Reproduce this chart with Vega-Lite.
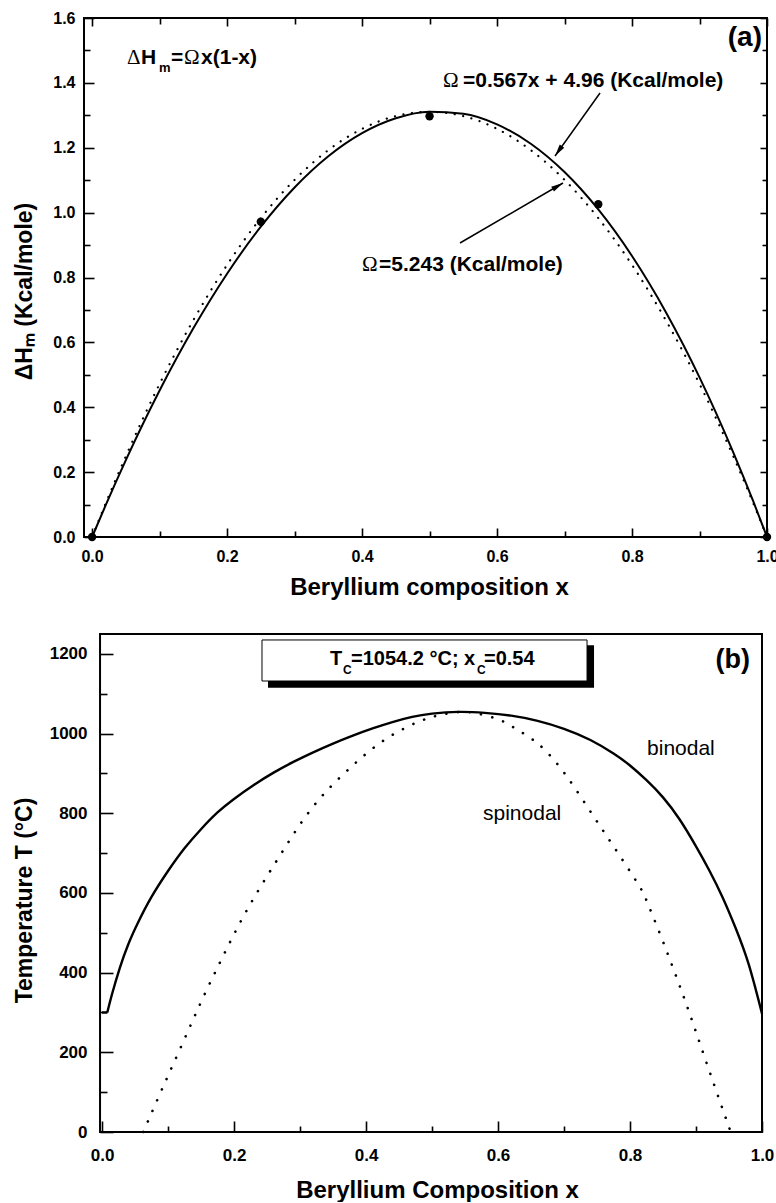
{
  "$schema": "https://vega.github.io/schema/vega-lite/v6.json",
  "background": "white",
  "padding": {"left": 12, "top": 9, "right": 0, "bottom": 0},
  "spacing": 33,
  "datasets": {
    "dh_fit": [
      {"x": 0, "y": 0}, {"x": 0.02, "y": 0.0974}, {"x": 0.05, "y": 0.2370}, {"x": 0.1, "y": 0.4515},
      {"x": 0.15, "y": 0.6432}, {"x": 0.2, "y": 0.8117}, {"x": 0.25, "y": 0.9566}, {"x": 0.3, "y": 1.0773},
      {"x": 0.35, "y": 1.1736}, {"x": 0.4, "y": 1.2448}, {"x": 0.45, "y": 1.2908}, {"x": 0.5, "y": 1.3109},
      {"x": 0.55, "y": 1.3048}, {"x": 0.6, "y": 1.2721}, {"x": 0.65, "y": 1.2123}, {"x": 0.7, "y": 1.1250},
      {"x": 0.75, "y": 1.0097}, {"x": 0.8, "y": 0.8662}, {"x": 0.85, "y": 0.6939}, {"x": 0.9, "y": 0.4923},
      {"x": 0.95, "y": 0.2612}, {"x": 0.98, "y": 0.1081}, {"x": 1.0, "y": 0}
    ],
    "dh_reg": [
      {"x": 0, "y": 0}, {"x": 0.02, "y": 0.1028}, {"x": 0.05, "y": 0.2490}, {"x": 0.1, "y": 0.4719},
      {"x": 0.15, "y": 0.6685}, {"x": 0.2, "y": 0.8389}, {"x": 0.25, "y": 0.9831}, {"x": 0.3, "y": 1.1010},
      {"x": 0.35, "y": 1.1928}, {"x": 0.4, "y": 1.2583}, {"x": 0.45, "y": 1.2976}, {"x": 0.5, "y": 1.3108},
      {"x": 0.55, "y": 1.2976}, {"x": 0.6, "y": 1.2583}, {"x": 0.65, "y": 1.1928}, {"x": 0.7, "y": 1.1010},
      {"x": 0.75, "y": 0.9831}, {"x": 0.8, "y": 0.8389}, {"x": 0.85, "y": 0.6685}, {"x": 0.9, "y": 0.4719},
      {"x": 0.95, "y": 0.2490}, {"x": 0.98, "y": 0.1028}, {"x": 1.0, "y": 0}
    ],
    "dh_pts": [
      {"x": 0, "y": 0}, {"x": 0.25, "y": 0.972}, {"x": 0.5, "y": 1.297}, {"x": 0.75, "y": 1.026}, {"x": 1.0, "y": 0}
    ],
    "binodal_stub": [
      {"x": 0, "T": 300}, {"x": 0.008, "T": 300}
    ],
    "binodal": [
      {"x": 0.008, "T": 300}, {"x": 0.015, "T": 345}, {"x": 0.027, "T": 412},
      {"x": 0.04, "T": 472}, {"x": 0.055, "T": 527}, {"x": 0.075, "T": 590}, {"x": 0.1, "T": 655},
      {"x": 0.125, "T": 712}, {"x": 0.15, "T": 760}, {"x": 0.175, "T": 802}, {"x": 0.2, "T": 836},
      {"x": 0.23, "T": 871}, {"x": 0.26, "T": 902}, {"x": 0.29, "T": 929}, {"x": 0.32, "T": 953},
      {"x": 0.35, "T": 975}, {"x": 0.38, "T": 995}, {"x": 0.41, "T": 1013}, {"x": 0.44, "T": 1029},
      {"x": 0.47, "T": 1042}, {"x": 0.5, "T": 1050}, {"x": 0.54, "T": 1054.5}, {"x": 0.58, "T": 1052},
      {"x": 0.62, "T": 1045}, {"x": 0.66, "T": 1032}, {"x": 0.7, "T": 1012}, {"x": 0.74, "T": 984},
      {"x": 0.775, "T": 950}, {"x": 0.8, "T": 920}, {"x": 0.825, "T": 883}, {"x": 0.85, "T": 840},
      {"x": 0.875, "T": 785}, {"x": 0.9, "T": 717}, {"x": 0.92, "T": 657}, {"x": 0.94, "T": 590},
      {"x": 0.96, "T": 512}, {"x": 0.98, "T": 420}, {"x": 1.0, "T": 297}
    ],
    "spinodal": [
      {"x": 0.0626, "T": 0}, {"x": 0.09, "T": 104}, {"x": 0.12, "T": 215}, {"x": 0.15, "T": 326},
      {"x": 0.18, "T": 430}, {"x": 0.21, "T": 528}, {"x": 0.24, "T": 615}, {"x": 0.27, "T": 695},
      {"x": 0.3, "T": 772}, {"x": 0.33, "T": 837}, {"x": 0.36, "T": 889}, {"x": 0.39, "T": 935},
      {"x": 0.42, "T": 975}, {"x": 0.45, "T": 1006}, {"x": 0.48, "T": 1030}, {"x": 0.51, "T": 1046},
      {"x": 0.545, "T": 1054.5}, {"x": 0.5727, "T": 1049}, {"x": 0.6, "T": 1036}, {"x": 0.6232, "T": 1016},
      {"x": 0.65, "T": 988}, {"x": 0.6738, "T": 954}, {"x": 0.7041, "T": 893}, {"x": 0.7394, "T": 806},
      {"x": 0.7747, "T": 718}, {"x": 0.8101, "T": 628}, {"x": 0.8253, "T": 580}, {"x": 0.8455, "T": 497},
      {"x": 0.8656, "T": 410}, {"x": 0.884, "T": 327}, {"x": 0.901, "T": 246}, {"x": 0.9186, "T": 161},
      {"x": 0.9364, "T": 76}, {"x": 0.9526, "T": 0}
    ]
  },
  "vconcat": [
    {
      "width": 683,
      "height": 519,
      "resolve": {"axis": {"x": "independent", "y": "independent"}},
      "layer": [
        {
          "data": {"name": "dh_fit"},
          "mark": {"type": "line", "color": "black", "strokeWidth": 2, "interpolate": "monotone"},
          "encoding": {
            "x": {"field": "x", "type": "quantitative", "scale": {"domain": [-0.012, 1.0], "nice": false, "zero": false},
              "axis": {"orient": "bottom", "values": [0, 0.1, 0.2, 0.3, 0.4, 0.5, 0.6, 0.7, 0.8, 0.9, 1.0],
                "labelExpr": "round(datum.value*10)%2==0 ? format(datum.value,'.1f') : ''",
                "tickSize": {"condition": {"test": "round(datum.value*10)%2==0", "value": -9}, "value": -6},
                "labelPadding": 20, "labelFontSize": 16,
                "title": "Beryllium composition x", "titleFontSize": 24, "titleX": 345, "titleY": 57, "titleBaseline": "alphabetic"}},
            "y": {"field": "y", "type": "quantitative", "scale": {"domain": [0, 1.6], "nice": false},
              "axis": {"orient": "left", "values": [0, 0.1, 0.2, 0.3, 0.4, 0.5, 0.6, 0.7, 0.8, 0.9, 1.0, 1.1, 1.2, 1.3, 1.4, 1.5, 1.6],
                "labelExpr": "round(datum.value*10)%2==0 ? format(datum.value,'.1f') : ''",
                "tickSize": {"condition": {"test": "round(datum.value*10)%2==0", "value": -10}, "value": -6},
                "labelPadding": 19, "labelFontSize": 16,
                "title": "ΔHₘ (Kcal/mole)", "titleFontSize": 23, "titleX": -53, "titleY": 273, "titleBaseline": "alphabetic"}}
          }
        },
        {
          "data": {"name": "dh_reg"},
          "mark": {"type": "line", "color": "black", "strokeWidth": 2.2, "strokeDash": [0.1, 8.5], "strokeCap": "round", "interpolate": "monotone"},
          "encoding": {
            "x": {"field": "x", "type": "quantitative", "scale": {"domain": [-0.012, 1.0], "nice": false, "zero": false},
              "axis": {"orient": "top", "values": [0, 0.1, 0.2, 0.3, 0.4, 0.5, 0.6, 0.7, 0.8, 0.9, 1.0], "labels": false, "title": null,
                "tickSize": {"condition": {"test": "round(datum.value*10)%2==0", "value": -8}, "value": -6}}},
            "y": {"field": "y", "type": "quantitative", "scale": {"domain": [0, 1.6], "nice": false},
              "axis": {"orient": "right", "values": [0, 0.1, 0.2, 0.3, 0.4, 0.5, 0.6, 0.7, 0.8, 0.9, 1.0, 1.1, 1.2, 1.3, 1.4, 1.5, 1.6], "labels": false, "title": null,
                "tickSize": {"condition": {"test": "round(datum.value*10)%2==0", "value": -7}, "value": -5}}}
          }
        },
        {
          "data": {"name": "dh_pts"},
          "mark": {"type": "circle", "color": "black", "size": 70, "opacity": 1},
          "encoding": {
            "x": {"field": "x", "type": "quantitative", "scale": {"domain": [-0.012, 1.0], "nice": false, "zero": false}, "axis": null},
            "y": {"field": "y", "type": "quantitative", "scale": {"domain": [0, 1.6], "nice": false}, "axis": null}
          }
        },
        {
          "data": {"values": [
            {"x": 0.7526, "y": 1.3688, "x2": 0.6859, "y2": 1.1746},
            {"x": 0.5451, "y": 0.9064, "x2": 0.6977, "y2": 1.0913}
          ]},
          "mark": {"type": "rule", "color": "black", "strokeWidth": 1.5},
          "encoding": {
            "x": {"field": "x", "type": "quantitative", "scale": {"domain": [-0.012, 1.0], "nice": false, "zero": false}, "axis": null},
            "y": {"field": "y", "type": "quantitative", "scale": {"domain": [0, 1.6], "nice": false}, "axis": null},
            "x2": {"field": "x2"},
            "y2": {"field": "y2"}
          }
        },
        {
          "data": {"values": [{"x": 0.6859, "y": 1.1746}]},
          "mark": {"type": "point", "shape": "M0,0L1.1,4.8L-1.1,4.8Z", "size": 25, "filled": true, "color": "black", "opacity": 1, "angle": 215.5},
          "encoding": {
            "x": {"field": "x", "type": "quantitative", "scale": {"domain": [-0.012, 1.0], "nice": false, "zero": false}, "axis": null},
            "y": {"field": "y", "type": "quantitative", "scale": {"domain": [0, 1.6], "nice": false}, "axis": null}
          }
        },
        {
          "data": {"values": [{"x": 0.6977, "y": 1.0913}]},
          "mark": {"type": "point", "shape": "M0,0L1.1,4.8L-1.1,4.8Z", "size": 25, "filled": true, "color": "black", "opacity": 1, "angle": 59.8},
          "encoding": {
            "x": {"field": "x", "type": "quantitative", "scale": {"domain": [-0.012, 1.0], "nice": false, "zero": false}, "axis": null},
            "y": {"field": "y", "type": "quantitative", "scale": {"domain": [0, 1.6], "nice": false}, "axis": null}
          }
        },
        {
          "data": {"values": [
            {"t": "H", "x": 0.0725, "y": 1.4582},
            {"t": "=", "x": 0.1169, "y": 1.4582},
            {"t": "x(1-x)", "x": 0.1614, "y": 1.4582},
            {"t": "=0.567x + 4.96 (Kcal/mole)", "x": 0.5496, "y": 1.3873},
            {"t": "=5.243 (Kcal/mole)", "x": 0.4251, "y": 0.8200}
          ]},
          "mark": {"type": "text", "align": "left", "baseline": "alphabetic", "font": "Liberation Sans", "fontWeight": "bold", "fontSize": 21, "color": "black"},
          "encoding": {
            "x": {"field": "x", "type": "quantitative", "scale": {"domain": [-0.012, 1.0], "nice": false, "zero": false}, "axis": null},
            "y": {"field": "y", "type": "quantitative", "scale": {"domain": [0, 1.6], "nice": false}, "axis": null},
            "text": {"field": "t"}
          }
        },
        {
          "data": {"values": [
            {"t": "Δ", "x": 0.0517, "y": 1.4582},
            {"t": "Ω", "x": 0.1361, "y": 1.4582},
            {"t": "Ω", "x": 0.5199, "y": 1.3873},
            {"t": "Ω", "x": 0.4000, "y": 0.8200}
          ]},
          "mark": {"type": "text", "align": "left", "baseline": "alphabetic", "font": "Liberation Serif", "fontSize": 21, "color": "black"},
          "encoding": {
            "x": {"field": "x", "type": "quantitative", "scale": {"domain": [-0.012, 1.0], "nice": false, "zero": false}, "axis": null},
            "y": {"field": "y", "type": "quantitative", "scale": {"domain": [0, 1.6], "nice": false}, "axis": null},
            "text": {"field": "t"}
          }
        },
        {
          "data": {"values": [{"t": "m", "x": 0.0990, "y": 1.4335}]},
          "mark": {"type": "text", "align": "left", "baseline": "alphabetic", "font": "Liberation Sans", "fontWeight": "bold", "fontSize": 13, "color": "black"},
          "encoding": {
            "x": {"field": "x", "type": "quantitative", "scale": {"domain": [-0.012, 1.0], "nice": false, "zero": false}, "axis": null},
            "y": {"field": "y", "type": "quantitative", "scale": {"domain": [0, 1.6], "nice": false}, "axis": null},
            "text": {"field": "t"}
          }
        },
        {
          "data": {"values": [{"t": "(a)", "x": 0.9926, "y": 1.5137}]},
          "mark": {"type": "text", "align": "right", "baseline": "alphabetic", "font": "Liberation Sans", "fontWeight": "bold", "fontSize": 28, "color": "black"},
          "encoding": {
            "x": {"field": "x", "type": "quantitative", "scale": {"domain": [-0.012, 1.0], "nice": false, "zero": false}, "axis": null},
            "y": {"field": "y", "type": "quantitative", "scale": {"domain": [0, 1.6], "nice": false}, "axis": null},
            "text": {"field": "t"}
          }
        }
      ]
    },
    {
      "width": 678,
      "height": 498,
      "view": {"stroke": null},
      "layer": [
        {
          "data": {"name": "binodal"},
          "mark": {"type": "line", "color": "black", "strokeWidth": 2.4, "interpolate": "natural"},
          "encoding": {
            "x": {"field": "x", "type": "quantitative", "scale": {"domain": [-0.0273, 1.0], "nice": false, "zero": false},
              "axis": {"orient": "bottom", "values": [0, 0.1, 0.2, 0.3, 0.4, 0.5, 0.6, 0.7, 0.8, 0.9, 1.0],
                "labelExpr": "round(datum.value*10)%2==0 ? format(datum.value,'.1f') : ''",
                "tickSize": {"condition": {"test": "round(datum.value*10)%2==0", "value": -11}, "value": -6},
                "labelPadding": 26, "labelFontSize": 17,
                "title": "Beryllium Composition x", "titleFontSize": 24, "titleX": 353, "titleY": 65, "titleBaseline": "alphabetic"}},
            "y": {"field": "T", "type": "quantitative", "scale": {"domain": [0, 1250], "nice": false},
              "axis": {"orient": "left", "offset": -16, "values": [0, 100, 200, 300, 400, 500, 600, 700, 800, 900, 1000, 1100, 1200],
                "labelExpr": "datum.value % 200 == 0 ? format(datum.value,'d') : ''",
                "tickSize": {"condition": {"test": "datum.value % 200 == 0", "value": -13}, "value": -7},
                "labelPadding": 26, "labelFontSize": 17,
                "title": "Temperature T (°C)", "titleFontSize": 23, "titleX": -69, "titleY": 266, "titleBaseline": "alphabetic"}}
          }
        },
        {
          "data": {"name": "binodal_stub"},
          "mark": {"type": "line", "color": "black", "strokeWidth": 2.4},
          "encoding": {
            "x": {"field": "x", "type": "quantitative", "scale": {"domain": [-0.0273, 1.0], "nice": false, "zero": false}},
            "y": {"field": "T", "type": "quantitative", "scale": {"domain": [0, 1250], "nice": false}}
          }
        },
        {
          "data": {"name": "spinodal"},
          "mark": {"type": "line", "color": "black", "strokeWidth": 2.6, "strokeDash": [0.1, 11.5], "strokeCap": "round", "interpolate": "natural"},
          "encoding": {
            "x": {"field": "x", "type": "quantitative", "scale": {"domain": [-0.0273, 1.0], "nice": false, "zero": false}},
            "y": {"field": "T", "type": "quantitative", "scale": {"domain": [0, 1250], "nice": false}}
          }
        },
        {
          "data": {"values": [{"x": -0.003, "x2": 1.0, "T": 0, "T2": 1250}]},
          "mark": {"type": "rect", "filled": false, "color": "black", "strokeWidth": 2},
          "encoding": {
            "x": {"field": "x", "type": "quantitative", "scale": {"domain": [-0.0273, 1.0], "nice": false, "zero": false}},
            "x2": {"field": "x2"},
            "y": {"field": "T", "type": "quantitative", "scale": {"domain": [0, 1250], "nice": false}},
            "y2": {"field": "T2"}
          }
        },
        {
          "data": {"values": [{"x": 0.2515, "x2": 0.7455, "T": 1222, "T2": 1115}]},
          "mark": {"type": "rect", "color": "black"},
          "encoding": {
            "x": {"field": "x", "type": "quantitative", "scale": {"domain": [-0.0273, 1.0], "nice": false, "zero": false}},
            "x2": {"field": "x2"},
            "y": {"field": "T", "type": "quantitative", "scale": {"domain": [0, 1250], "nice": false}},
            "y2": {"field": "T2"}
          }
        },
        {
          "data": {"values": [{"x": 0.2424, "x2": 0.7349, "T": 1235, "T2": 1132}]},
          "mark": {"type": "rect", "fill": "white", "stroke": "black", "strokeWidth": 1},
          "encoding": {
            "x": {"field": "x", "type": "quantitative", "scale": {"domain": [-0.0273, 1.0], "nice": false, "zero": false}},
            "x2": {"field": "x2"},
            "y": {"field": "T", "type": "quantitative", "scale": {"domain": [0, 1250], "nice": false}},
            "y2": {"field": "T2"}
          }
        },
        {
          "data": {"values": [
            {"t": "T", "x": 0.3455, "T": 1172},
            {"t": "=1054.2 °C; x", "x": 0.3773, "T": 1172},
            {"t": "=0.54", "x": 0.5788, "T": 1172}
          ]},
          "mark": {"type": "text", "align": "left", "baseline": "alphabetic", "font": "Liberation Sans", "fontWeight": "bold", "fontSize": 20, "color": "black"},
          "encoding": {
            "x": {"field": "x", "type": "quantitative", "scale": {"domain": [-0.0273, 1.0], "nice": false, "zero": false}},
            "y": {"field": "T", "type": "quantitative", "scale": {"domain": [0, 1250], "nice": false}},
            "text": {"field": "t"}
          }
        },
        {
          "data": {"values": [
            {"t": "C", "x": 0.3652, "T": 1150},
            {"t": "C", "x": 0.5682, "T": 1150}
          ]},
          "mark": {"type": "text", "align": "left", "baseline": "alphabetic", "font": "Liberation Sans", "fontWeight": "bold", "fontSize": 12, "color": "black"},
          "encoding": {
            "x": {"field": "x", "type": "quantitative", "scale": {"domain": [-0.0273, 1.0], "nice": false, "zero": false}},
            "y": {"field": "T", "type": "quantitative", "scale": {"domain": [0, 1250], "nice": false}},
            "text": {"field": "t"}
          }
        },
        {
          "data": {"values": [
            {"t": "binodal", "x": 0.8258, "T": 946},
            {"t": "spinodal", "x": 0.5773, "T": 783}
          ]},
          "mark": {"type": "text", "align": "left", "baseline": "alphabetic", "font": "Liberation Sans", "fontSize": 21, "color": "black"},
          "encoding": {
            "x": {"field": "x", "type": "quantitative", "scale": {"domain": [-0.0273, 1.0], "nice": false, "zero": false}},
            "y": {"field": "T", "type": "quantitative", "scale": {"domain": [0, 1250], "nice": false}},
            "text": {"field": "t"}
          }
        },
        {
          "data": {"values": [{"t": "(b)", "x": 0.9818, "T": 1165}]},
          "mark": {"type": "text", "align": "right", "baseline": "alphabetic", "font": "Liberation Sans", "fontWeight": "bold", "fontSize": 27, "color": "black"},
          "encoding": {
            "x": {"field": "x", "type": "quantitative", "scale": {"domain": [-0.0273, 1.0], "nice": false, "zero": false}},
            "y": {"field": "T", "type": "quantitative", "scale": {"domain": [0, 1250], "nice": false}},
            "text": {"field": "t"}
          }
        }
      ]
    }
  ],
  "config": {
    "view": {"stroke": "black", "strokeWidth": 2},
    "axis": {
      "domain": false, "grid": false,
      "tickColor": "black", "tickWidth": 1.6,
      "labelColor": "black", "labelFont": "Liberation Sans", "labelFontWeight": "bold",
      "labelFlush": false, "labelOverlap": false,
      "titleColor": "black", "titleFont": "Liberation Sans", "titleFontWeight": "bold"
    }
  }
}
